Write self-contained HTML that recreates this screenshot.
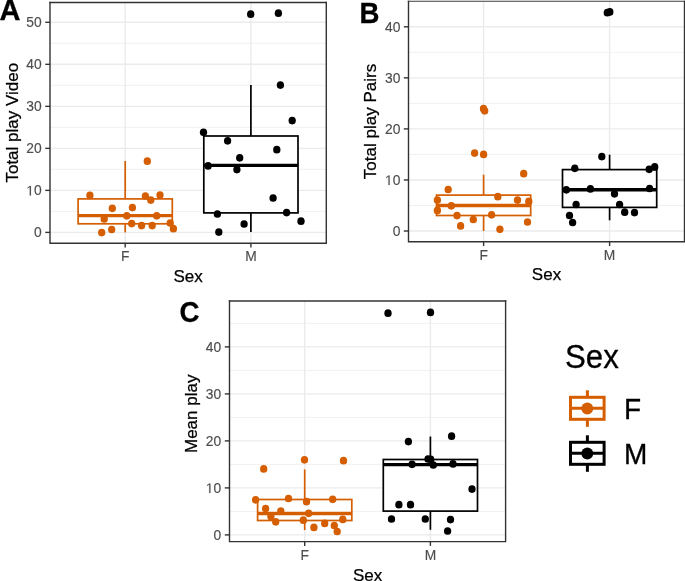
<!DOCTYPE html>
<html><head><meta charset="utf-8"><style>
html,body{margin:0;padding:0;background:#fff;}
body{width:685px;height:581px;overflow:hidden;}
svg{display:block;will-change:transform;}
text{font-family:"Liberation Sans",sans-serif;}
.tk{font-size:13.8px;fill:#4D4D4D;stroke:#4D4D4D;stroke-width:0.15px;}
.ti{font-size:17px;fill:#000;stroke:#000;stroke-width:0.25px;}
.lab{font-size:27.6px;font-weight:bold;fill:#000;stroke:#000;stroke-width:0.3px;}
.lt{font-size:31.2px;fill:#000;stroke:#000;stroke-width:0.3px;}
.lk{font-size:28px;fill:#000;stroke:#000;stroke-width:0.3px;}
</style></head><body>
<svg width="685" height="581" viewBox="0 0 685 581">
<line x1="50" x2="326.3" y1="211.39" y2="211.39" stroke="#EBEBEB" stroke-width="0.75"/>
<line x1="50" x2="326.3" y1="169.37" y2="169.37" stroke="#EBEBEB" stroke-width="0.75"/>
<line x1="50" x2="326.3" y1="127.35" y2="127.35" stroke="#EBEBEB" stroke-width="0.75"/>
<line x1="50" x2="326.3" y1="85.33" y2="85.33" stroke="#EBEBEB" stroke-width="0.75"/>
<line x1="50" x2="326.3" y1="43.31" y2="43.31" stroke="#EBEBEB" stroke-width="0.75"/>
<line x1="50" x2="326.3" y1="232.40" y2="232.40" stroke="#EBEBEB" stroke-width="1.4"/>
<line x1="50" x2="326.3" y1="190.38" y2="190.38" stroke="#EBEBEB" stroke-width="1.4"/>
<line x1="50" x2="326.3" y1="148.36" y2="148.36" stroke="#EBEBEB" stroke-width="1.4"/>
<line x1="50" x2="326.3" y1="106.34" y2="106.34" stroke="#EBEBEB" stroke-width="1.4"/>
<line x1="50" x2="326.3" y1="64.32" y2="64.32" stroke="#EBEBEB" stroke-width="1.4"/>
<line x1="50" x2="326.3" y1="22.30" y2="22.30" stroke="#EBEBEB" stroke-width="1.4"/>
<line x1="125.2" x2="125.2" y1="2.5" y2="243.3" stroke="#EBEBEB" stroke-width="1.4"/>
<line x1="250.9" x2="250.9" y1="2.5" y2="243.3" stroke="#EBEBEB" stroke-width="1.4"/>
<line x1="125.2" x2="125.2" y1="161.0" y2="198.9" stroke="#D55E00" stroke-width="1.7"/>
<line x1="125.2" x2="125.2" y1="223.8" y2="232.4" stroke="#D55E00" stroke-width="1.7"/>
<rect x="78.10" y="198.9" width="94.20" height="24.90" fill="#fff" stroke="#D55E00" stroke-width="1.7"/>
<line x1="78.10" x2="172.30" y1="215.6" y2="215.6" stroke="#D55E00" stroke-width="3.4"/>
<ellipse cx="89.9" cy="195.40" rx="3.65" ry="3.85" fill="#D55E00"/>
<ellipse cx="147.3" cy="161.20" rx="3.65" ry="3.85" fill="#D55E00"/>
<ellipse cx="145.4" cy="196.00" rx="3.65" ry="3.85" fill="#D55E00"/>
<ellipse cx="150.8" cy="200.10" rx="3.65" ry="3.85" fill="#D55E00"/>
<ellipse cx="160" cy="195.00" rx="3.65" ry="3.85" fill="#D55E00"/>
<ellipse cx="112.3" cy="208.30" rx="3.65" ry="3.85" fill="#D55E00"/>
<ellipse cx="132.4" cy="207.60" rx="3.65" ry="3.85" fill="#D55E00"/>
<ellipse cx="104.2" cy="218.90" rx="3.65" ry="3.85" fill="#D55E00"/>
<ellipse cx="126.8" cy="215.80" rx="3.65" ry="3.85" fill="#D55E00"/>
<ellipse cx="156.7" cy="215.80" rx="3.65" ry="3.85" fill="#D55E00"/>
<ellipse cx="131.7" cy="223.60" rx="3.65" ry="3.85" fill="#D55E00"/>
<ellipse cx="141.6" cy="225.60" rx="3.65" ry="3.85" fill="#D55E00"/>
<ellipse cx="152.2" cy="225.60" rx="3.65" ry="3.85" fill="#D55E00"/>
<ellipse cx="170.2" cy="223.00" rx="3.65" ry="3.85" fill="#D55E00"/>
<ellipse cx="173.4" cy="228.70" rx="3.65" ry="3.85" fill="#D55E00"/>
<ellipse cx="111.7" cy="229.50" rx="3.65" ry="3.85" fill="#D55E00"/>
<ellipse cx="101.7" cy="232.60" rx="3.65" ry="3.85" fill="#D55E00"/>
<line x1="250.9" x2="250.9" y1="84.9" y2="136.0" stroke="#000000" stroke-width="1.7"/>
<line x1="250.9" x2="250.9" y1="212.9" y2="231.9" stroke="#000000" stroke-width="1.7"/>
<rect x="203.80" y="136.0" width="94.20" height="76.90" fill="#fff" stroke="#000000" stroke-width="1.7"/>
<line x1="203.80" x2="298.00" y1="165.4" y2="165.4" stroke="#000000" stroke-width="3.4"/>
<ellipse cx="250.7" cy="14.20" rx="3.65" ry="3.85" fill="#000000"/>
<ellipse cx="278.4" cy="13.20" rx="3.65" ry="3.85" fill="#000000"/>
<ellipse cx="280.4" cy="85.10" rx="3.65" ry="3.85" fill="#000000"/>
<ellipse cx="292.2" cy="120.60" rx="3.65" ry="3.85" fill="#000000"/>
<ellipse cx="203.5" cy="132.30" rx="3.65" ry="3.85" fill="#000000"/>
<ellipse cx="227.6" cy="140.80" rx="3.65" ry="3.85" fill="#000000"/>
<ellipse cx="276.8" cy="149.70" rx="3.65" ry="3.85" fill="#000000"/>
<ellipse cx="239.7" cy="157.80" rx="3.65" ry="3.85" fill="#000000"/>
<ellipse cx="208.1" cy="165.90" rx="3.65" ry="3.85" fill="#000000"/>
<ellipse cx="236.9" cy="169.60" rx="3.65" ry="3.85" fill="#000000"/>
<ellipse cx="273.1" cy="198.00" rx="3.65" ry="3.85" fill="#000000"/>
<ellipse cx="217.4" cy="214.00" rx="3.65" ry="3.85" fill="#000000"/>
<ellipse cx="286.6" cy="212.60" rx="3.65" ry="3.85" fill="#000000"/>
<ellipse cx="301" cy="221.20" rx="3.65" ry="3.85" fill="#000000"/>
<ellipse cx="244.1" cy="224.00" rx="3.65" ry="3.85" fill="#000000"/>
<ellipse cx="218.8" cy="232.10" rx="3.65" ry="3.85" fill="#000000"/>
<path d="M50,1.80 V243.3 H326.3 V1.80" fill="none" stroke="#333333" stroke-width="1.4" stroke-linecap="butt"/>
<line x1="49.30" x2="327.00" y1="2.5" y2="2.5" stroke="#333333" stroke-width="1.4"/>
<line x1="45.30" x2="50" y1="232.40" y2="232.40" stroke="#333333" stroke-width="1.4"/>
<text x="33.93" y="237.40" class="tk">0</text>
<line x1="45.30" x2="50" y1="190.38" y2="190.38" stroke="#333333" stroke-width="1.4"/>
<path transform="translate(26.25,195.38) scale(0.006738,-0.006738)" d="M515,0 L515,1237 L197,1010 L197,1180 L530,1409 L696,1409 L696,0 Z" fill="#4D4D4D" stroke="#4D4D4D" stroke-width="22.3"/>
<text x="33.93" y="195.38" class="tk">0</text>
<line x1="45.30" x2="50" y1="148.36" y2="148.36" stroke="#333333" stroke-width="1.4"/>
<text x="26.25" y="153.36" class="tk">2</text>
<text x="33.93" y="153.36" class="tk">0</text>
<line x1="45.30" x2="50" y1="106.34" y2="106.34" stroke="#333333" stroke-width="1.4"/>
<text x="26.25" y="111.34" class="tk">3</text>
<text x="33.93" y="111.34" class="tk">0</text>
<line x1="45.30" x2="50" y1="64.32" y2="64.32" stroke="#333333" stroke-width="1.4"/>
<text x="26.25" y="69.32" class="tk">4</text>
<text x="33.93" y="69.32" class="tk">0</text>
<line x1="45.30" x2="50" y1="22.30" y2="22.30" stroke="#333333" stroke-width="1.4"/>
<text x="26.25" y="27.30" class="tk">5</text>
<text x="33.93" y="27.30" class="tk">0</text>
<line x1="125.2" x2="125.2" y1="243.3" y2="247.60" stroke="#333333" stroke-width="1.4"/>
<text x="125.2" y="261.0" text-anchor="middle" class="tk">F</text>
<line x1="250.9" x2="250.9" y1="243.3" y2="247.60" stroke="#333333" stroke-width="1.4"/>
<text x="250.9" y="261.0" text-anchor="middle" class="tk">M</text>
<text x="188.15" y="281.9" text-anchor="middle" class="ti">Sex</text>
<text transform="translate(17.8,122.7) rotate(-90)" x="0" y="0" text-anchor="middle" class="ti">Total play Video</text>
<line x1="408.5" x2="684.5" y1="205.47" y2="205.47" stroke="#EBEBEB" stroke-width="0.75"/>
<line x1="408.5" x2="684.5" y1="154.43" y2="154.43" stroke="#EBEBEB" stroke-width="0.75"/>
<line x1="408.5" x2="684.5" y1="103.37" y2="103.37" stroke="#EBEBEB" stroke-width="0.75"/>
<line x1="408.5" x2="684.5" y1="52.32" y2="52.32" stroke="#EBEBEB" stroke-width="0.75"/>
<line x1="408.5" x2="684.5" y1="231.00" y2="231.00" stroke="#EBEBEB" stroke-width="1.4"/>
<line x1="408.5" x2="684.5" y1="179.95" y2="179.95" stroke="#EBEBEB" stroke-width="1.4"/>
<line x1="408.5" x2="684.5" y1="128.90" y2="128.90" stroke="#EBEBEB" stroke-width="1.4"/>
<line x1="408.5" x2="684.5" y1="77.85" y2="77.85" stroke="#EBEBEB" stroke-width="1.4"/>
<line x1="408.5" x2="684.5" y1="26.80" y2="26.80" stroke="#EBEBEB" stroke-width="1.4"/>
<line x1="483.6" x2="483.6" y1="1.3" y2="241.7" stroke="#EBEBEB" stroke-width="1.4"/>
<line x1="609.6" x2="609.6" y1="1.3" y2="241.7" stroke="#EBEBEB" stroke-width="1.4"/>
<line x1="483.6" x2="483.6" y1="174.7" y2="195.1" stroke="#D55E00" stroke-width="1.7"/>
<line x1="483.6" x2="483.6" y1="215.5" y2="231.0" stroke="#D55E00" stroke-width="1.7"/>
<rect x="436.50" y="195.1" width="94.20" height="20.40" fill="#fff" stroke="#D55E00" stroke-width="1.7"/>
<line x1="436.50" x2="530.70" y1="205.5" y2="205.5" stroke="#D55E00" stroke-width="3.4"/>
<ellipse cx="483.5" cy="108.70" rx="3.65" ry="3.85" fill="#D55E00"/>
<ellipse cx="484.7" cy="110.80" rx="3.65" ry="3.85" fill="#D55E00"/>
<ellipse cx="474.6" cy="153.10" rx="3.65" ry="3.85" fill="#D55E00"/>
<ellipse cx="483.6" cy="154.40" rx="3.65" ry="3.85" fill="#D55E00"/>
<ellipse cx="523.7" cy="173.70" rx="3.65" ry="3.85" fill="#D55E00"/>
<ellipse cx="448.2" cy="189.50" rx="3.65" ry="3.85" fill="#D55E00"/>
<ellipse cx="497.8" cy="196.70" rx="3.65" ry="3.85" fill="#D55E00"/>
<ellipse cx="437.4" cy="200.10" rx="3.65" ry="3.85" fill="#D55E00"/>
<ellipse cx="517.5" cy="200.10" rx="3.65" ry="3.85" fill="#D55E00"/>
<ellipse cx="528.8" cy="201.40" rx="3.65" ry="3.85" fill="#D55E00"/>
<ellipse cx="451.3" cy="205.80" rx="3.65" ry="3.85" fill="#D55E00"/>
<ellipse cx="437.4" cy="210.40" rx="3.65" ry="3.85" fill="#D55E00"/>
<ellipse cx="457" cy="215.60" rx="3.65" ry="3.85" fill="#D55E00"/>
<ellipse cx="491.6" cy="214.80" rx="3.65" ry="3.85" fill="#D55E00"/>
<ellipse cx="473.3" cy="219.50" rx="3.65" ry="3.85" fill="#D55E00"/>
<ellipse cx="460.6" cy="225.90" rx="3.65" ry="3.85" fill="#D55E00"/>
<ellipse cx="527.5" cy="222.00" rx="3.65" ry="3.85" fill="#D55E00"/>
<ellipse cx="499.9" cy="229.30" rx="3.65" ry="3.85" fill="#D55E00"/>
<line x1="609.6" x2="609.6" y1="154.7" y2="169.6" stroke="#000000" stroke-width="1.7"/>
<line x1="609.6" x2="609.6" y1="207.4" y2="220.3" stroke="#000000" stroke-width="1.7"/>
<rect x="562.50" y="169.6" width="94.20" height="37.80" fill="#fff" stroke="#000000" stroke-width="1.7"/>
<line x1="562.50" x2="656.70" y1="189.7" y2="189.7" stroke="#000000" stroke-width="3.4"/>
<ellipse cx="607.3" cy="12.70" rx="3.65" ry="3.85" fill="#000000"/>
<ellipse cx="609.8" cy="11.90" rx="3.65" ry="3.85" fill="#000000"/>
<ellipse cx="601.8" cy="156.60" rx="3.65" ry="3.85" fill="#000000"/>
<ellipse cx="574.8" cy="168.30" rx="3.65" ry="3.85" fill="#000000"/>
<ellipse cx="649.2" cy="169.30" rx="3.65" ry="3.85" fill="#000000"/>
<ellipse cx="654.7" cy="166.90" rx="3.65" ry="3.85" fill="#000000"/>
<ellipse cx="566.3" cy="189.80" rx="3.65" ry="3.85" fill="#000000"/>
<ellipse cx="590.4" cy="188.90" rx="3.65" ry="3.85" fill="#000000"/>
<ellipse cx="649.6" cy="188.50" rx="3.65" ry="3.85" fill="#000000"/>
<ellipse cx="614.5" cy="193.80" rx="3.65" ry="3.85" fill="#000000"/>
<ellipse cx="576.1" cy="204.50" rx="3.65" ry="3.85" fill="#000000"/>
<ellipse cx="619.6" cy="204.50" rx="3.65" ry="3.85" fill="#000000"/>
<ellipse cx="569.5" cy="215.50" rx="3.65" ry="3.85" fill="#000000"/>
<ellipse cx="624.7" cy="212.20" rx="3.65" ry="3.85" fill="#000000"/>
<ellipse cx="634.5" cy="212.60" rx="3.65" ry="3.85" fill="#000000"/>
<ellipse cx="572.6" cy="222.50" rx="3.65" ry="3.85" fill="#000000"/>
<path d="M408.5,0.78 V241.7 H684.5 V0.78" fill="none" stroke="#333333" stroke-width="1.4" stroke-linecap="butt"/>
<line x1="407.80" x2="685.20" y1="1.25" y2="1.25" stroke="#333333" stroke-width="0.95"/>
<line x1="403.80" x2="408.5" y1="231.00" y2="231.00" stroke="#333333" stroke-width="1.4"/>
<text x="392.63" y="236.00" class="tk">0</text>
<line x1="403.80" x2="408.5" y1="179.95" y2="179.95" stroke="#333333" stroke-width="1.4"/>
<path transform="translate(384.95,184.95) scale(0.006738,-0.006738)" d="M515,0 L515,1237 L197,1010 L197,1180 L530,1409 L696,1409 L696,0 Z" fill="#4D4D4D" stroke="#4D4D4D" stroke-width="22.3"/>
<text x="392.63" y="184.95" class="tk">0</text>
<line x1="403.80" x2="408.5" y1="128.90" y2="128.90" stroke="#333333" stroke-width="1.4"/>
<text x="384.95" y="133.90" class="tk">2</text>
<text x="392.63" y="133.90" class="tk">0</text>
<line x1="403.80" x2="408.5" y1="77.85" y2="77.85" stroke="#333333" stroke-width="1.4"/>
<text x="384.95" y="82.85" class="tk">3</text>
<text x="392.63" y="82.85" class="tk">0</text>
<line x1="403.80" x2="408.5" y1="26.80" y2="26.80" stroke="#333333" stroke-width="1.4"/>
<text x="384.95" y="31.80" class="tk">4</text>
<text x="392.63" y="31.80" class="tk">0</text>
<line x1="483.6" x2="483.6" y1="241.7" y2="246.00" stroke="#333333" stroke-width="1.4"/>
<text x="483.6" y="259.7" text-anchor="middle" class="tk">F</text>
<line x1="609.6" x2="609.6" y1="241.7" y2="246.00" stroke="#333333" stroke-width="1.4"/>
<text x="609.6" y="259.7" text-anchor="middle" class="tk">M</text>
<text x="546.50" y="280.3" text-anchor="middle" class="ti">Sex</text>
<text transform="translate(376.2,121.5) rotate(-90)" x="0" y="0" text-anchor="middle" class="ti">Total play Pairs</text>
<line x1="229.5" x2="505.6" y1="511.40" y2="511.40" stroke="#EBEBEB" stroke-width="0.75"/>
<line x1="229.5" x2="505.6" y1="464.40" y2="464.40" stroke="#EBEBEB" stroke-width="0.75"/>
<line x1="229.5" x2="505.6" y1="417.40" y2="417.40" stroke="#EBEBEB" stroke-width="0.75"/>
<line x1="229.5" x2="505.6" y1="370.40" y2="370.40" stroke="#EBEBEB" stroke-width="0.75"/>
<line x1="229.5" x2="505.6" y1="323.40" y2="323.40" stroke="#EBEBEB" stroke-width="0.75"/>
<line x1="229.5" x2="505.6" y1="534.90" y2="534.90" stroke="#EBEBEB" stroke-width="1.4"/>
<line x1="229.5" x2="505.6" y1="487.90" y2="487.90" stroke="#EBEBEB" stroke-width="1.4"/>
<line x1="229.5" x2="505.6" y1="440.90" y2="440.90" stroke="#EBEBEB" stroke-width="1.4"/>
<line x1="229.5" x2="505.6" y1="393.90" y2="393.90" stroke="#EBEBEB" stroke-width="1.4"/>
<line x1="229.5" x2="505.6" y1="346.90" y2="346.90" stroke="#EBEBEB" stroke-width="1.4"/>
<line x1="304.7" x2="304.7" y1="301.0" y2="541.6" stroke="#EBEBEB" stroke-width="1.4"/>
<line x1="430.4" x2="430.4" y1="301.0" y2="541.6" stroke="#EBEBEB" stroke-width="1.4"/>
<line x1="304.7" x2="304.7" y1="469.4" y2="499.5" stroke="#D55E00" stroke-width="1.7"/>
<line x1="304.7" x2="304.7" y1="520.5" y2="530.1" stroke="#D55E00" stroke-width="1.7"/>
<rect x="257.60" y="499.5" width="94.20" height="21.00" fill="#fff" stroke="#D55E00" stroke-width="1.7"/>
<line x1="257.60" x2="351.80" y1="513.5" y2="513.5" stroke="#D55E00" stroke-width="3.4"/>
<ellipse cx="304.5" cy="459.80" rx="3.65" ry="3.85" fill="#D55E00"/>
<ellipse cx="343.5" cy="460.70" rx="3.65" ry="3.85" fill="#D55E00"/>
<ellipse cx="263.7" cy="468.90" rx="3.65" ry="3.85" fill="#D55E00"/>
<ellipse cx="255.6" cy="499.80" rx="3.65" ry="3.85" fill="#D55E00"/>
<ellipse cx="288.5" cy="498.50" rx="3.65" ry="3.85" fill="#D55E00"/>
<ellipse cx="306.5" cy="501.70" rx="3.65" ry="3.85" fill="#D55E00"/>
<ellipse cx="332.7" cy="499.30" rx="3.65" ry="3.85" fill="#D55E00"/>
<ellipse cx="265.6" cy="508.50" rx="3.65" ry="3.85" fill="#D55E00"/>
<ellipse cx="280.8" cy="511.10" rx="3.65" ry="3.85" fill="#D55E00"/>
<ellipse cx="308.6" cy="513.30" rx="3.65" ry="3.85" fill="#D55E00"/>
<ellipse cx="270.9" cy="516.50" rx="3.65" ry="3.85" fill="#D55E00"/>
<ellipse cx="275.7" cy="521.80" rx="3.65" ry="3.85" fill="#D55E00"/>
<ellipse cx="303.3" cy="520.20" rx="3.65" ry="3.85" fill="#D55E00"/>
<ellipse cx="342.8" cy="519.40" rx="3.65" ry="3.85" fill="#D55E00"/>
<ellipse cx="324.7" cy="523.40" rx="3.65" ry="3.85" fill="#D55E00"/>
<ellipse cx="334.3" cy="525.50" rx="3.65" ry="3.85" fill="#D55E00"/>
<ellipse cx="313.9" cy="527.40" rx="3.65" ry="3.85" fill="#D55E00"/>
<ellipse cx="337.2" cy="531.50" rx="3.65" ry="3.85" fill="#D55E00"/>
<line x1="430.4" x2="430.4" y1="436.5" y2="459.5" stroke="#000000" stroke-width="1.7"/>
<line x1="430.4" x2="430.4" y1="511.1" y2="529.8" stroke="#000000" stroke-width="1.7"/>
<rect x="383.30" y="459.5" width="94.20" height="51.60" fill="#fff" stroke="#000000" stroke-width="1.7"/>
<line x1="383.30" x2="477.50" y1="464.6" y2="464.6" stroke="#000000" stroke-width="3.4"/>
<ellipse cx="388" cy="313.20" rx="3.65" ry="3.85" fill="#000000"/>
<ellipse cx="430.5" cy="312.40" rx="3.65" ry="3.85" fill="#000000"/>
<ellipse cx="451.6" cy="436.20" rx="3.65" ry="3.85" fill="#000000"/>
<ellipse cx="408.4" cy="441.60" rx="3.65" ry="3.85" fill="#000000"/>
<ellipse cx="428.0" cy="459.00" rx="3.65" ry="3.85" fill="#000000"/>
<ellipse cx="430.7" cy="459.30" rx="3.65" ry="3.85" fill="#000000"/>
<ellipse cx="433.3" cy="465.00" rx="3.65" ry="3.85" fill="#000000"/>
<ellipse cx="412.1" cy="464.30" rx="3.65" ry="3.85" fill="#000000"/>
<ellipse cx="453" cy="463.90" rx="3.65" ry="3.85" fill="#000000"/>
<ellipse cx="472" cy="489.10" rx="3.65" ry="3.85" fill="#000000"/>
<ellipse cx="398.9" cy="504.70" rx="3.65" ry="3.85" fill="#000000"/>
<ellipse cx="410.5" cy="504.70" rx="3.65" ry="3.85" fill="#000000"/>
<ellipse cx="391.5" cy="519.00" rx="3.65" ry="3.85" fill="#000000"/>
<ellipse cx="425.3" cy="519.00" rx="3.65" ry="3.85" fill="#000000"/>
<ellipse cx="450.5" cy="519.60" rx="3.65" ry="3.85" fill="#000000"/>
<ellipse cx="447.6" cy="531.00" rx="3.65" ry="3.85" fill="#000000"/>
<path d="M229.5,300.30 V541.6 H505.6 V300.30" fill="none" stroke="#333333" stroke-width="1.4" stroke-linecap="butt"/>
<line x1="228.80" x2="506.30" y1="301.0" y2="301.0" stroke="#333333" stroke-width="1.4"/>
<line x1="224.80" x2="229.5" y1="534.90" y2="534.90" stroke="#333333" stroke-width="1.4"/>
<text x="213.43" y="539.90" class="tk">0</text>
<line x1="224.80" x2="229.5" y1="487.90" y2="487.90" stroke="#333333" stroke-width="1.4"/>
<path transform="translate(205.75,492.90) scale(0.006738,-0.006738)" d="M515,0 L515,1237 L197,1010 L197,1180 L530,1409 L696,1409 L696,0 Z" fill="#4D4D4D" stroke="#4D4D4D" stroke-width="22.3"/>
<text x="213.43" y="492.90" class="tk">0</text>
<line x1="224.80" x2="229.5" y1="440.90" y2="440.90" stroke="#333333" stroke-width="1.4"/>
<text x="205.75" y="445.90" class="tk">2</text>
<text x="213.43" y="445.90" class="tk">0</text>
<line x1="224.80" x2="229.5" y1="393.90" y2="393.90" stroke="#333333" stroke-width="1.4"/>
<text x="205.75" y="398.90" class="tk">3</text>
<text x="213.43" y="398.90" class="tk">0</text>
<line x1="224.80" x2="229.5" y1="346.90" y2="346.90" stroke="#333333" stroke-width="1.4"/>
<text x="205.75" y="351.90" class="tk">4</text>
<text x="213.43" y="351.90" class="tk">0</text>
<line x1="304.7" x2="304.7" y1="541.6" y2="545.90" stroke="#333333" stroke-width="1.4"/>
<text x="304.7" y="559.8" text-anchor="middle" class="tk">F</text>
<line x1="430.4" x2="430.4" y1="541.6" y2="545.90" stroke="#333333" stroke-width="1.4"/>
<text x="430.4" y="559.8" text-anchor="middle" class="tk">M</text>
<text x="367.55" y="580.8" text-anchor="middle" class="ti">Sex</text>
<text transform="translate(196.9,413.8) rotate(-90)" x="0" y="0" text-anchor="middle" class="ti">Mean play</text>
<text transform="translate(-0.5,20.1) scale(1.05,1.06)" class="lab">A</text>
<text transform="translate(359.5,23.0) scale(1,1.06)" class="lab">B</text>
<text transform="translate(179.6,322.2) scale(1,1.05)" class="lab">C</text>
<text transform="translate(565,367.9) scale(1,1.06)" class="lt">Sex</text>
<line x1="587.4" x2="587.4" y1="390.30" y2="426.80" stroke="#D55E00" stroke-width="3"/>
<rect x="570.5" y="397.30" width="33.6" height="22" fill="#fff" stroke="#D55E00" stroke-width="3"/>
<line x1="570.5" x2="604.1" y1="408.30" y2="408.30" stroke="#D55E00" stroke-width="3"/>
<circle cx="587.3" cy="408.50" r="5.9" fill="#D55E00"/>
<line x1="587.4" x2="587.4" y1="435.30" y2="471.80" stroke="#000000" stroke-width="3"/>
<rect x="570.5" y="442.30" width="33.6" height="22" fill="#fff" stroke="#000000" stroke-width="3"/>
<line x1="570.5" x2="604.1" y1="453.30" y2="453.30" stroke="#000000" stroke-width="3"/>
<circle cx="587.3" cy="453.50" r="5.9" fill="#000000"/>
<text transform="translate(624,419.1) scale(1,1.04)" class="lk">F</text>
<text transform="translate(624,464.3) scale(1,1.04)" class="lk">M</text>
</svg>
</body></html>
